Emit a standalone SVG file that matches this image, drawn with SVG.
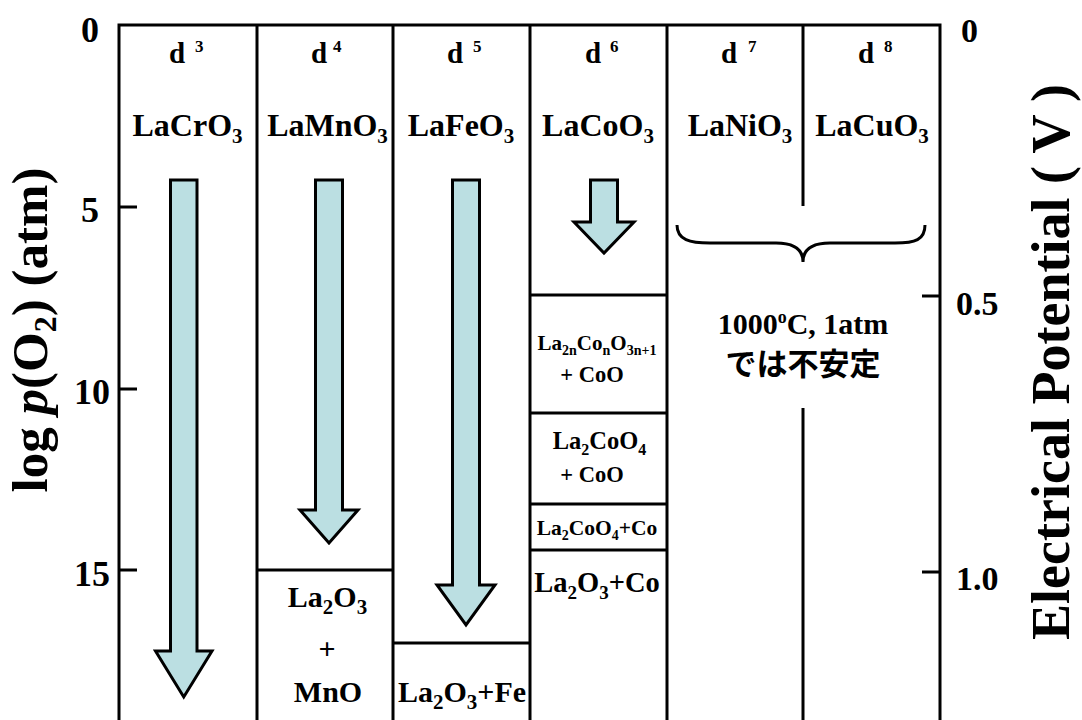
<svg xmlns="http://www.w3.org/2000/svg" width="1082" height="720" viewBox="0 0 1082 720">
<style>
text{font-family:"Liberation Serif","Times New Roman",serif;font-weight:bold;fill:#000}
.ln{stroke:#000;stroke-width:3;fill:none}
.arr{fill:#bbdfe2;stroke:#000;stroke-width:3;stroke-linejoin:miter}
.hd{font-size:32px;text-anchor:middle}
.sub{font-size:21px}
.d{font-size:29px}
.sup{font-size:17px}
.c{font-size:30px;text-anchor:middle}
.ax{font-size:36px;text-anchor:middle}
.ax2{font-size:34px}
.jp{font-family:"Noto Sans CJK JP",sans-serif;font-size:31px;text-anchor:middle}
</style>
<rect width="1082" height="720" fill="#fff"/>
<g id="frame" class="ln">
<path d="M119,720V25H940V720"/>
<path d="M257,25V720M393,25V720M530,25V720M667,25V720M803,25V206M803,408V720"/>
<path d="M119,207H137M119,389H137M119,570H137M922,296H940M922,572H940"/>
<path d="M257,570H393M393,643H530M530,295H667M530,413H667M530,504H667M530,550H667"/>
</g>
<g id="axis-left">
<text class="ax" x="90" y="42">0</text>
<text class="ax" x="90" y="222">5</text>
<text class="ax" x="92" y="404">10</text>
<text class="ax" x="92" y="586">15</text>
<text transform="translate(47,330) rotate(-90)" text-anchor="middle" font-size="51">log <tspan font-style="italic">p</tspan>(O<tspan font-size="32" dy="9">2</tspan><tspan dy="-9">) (atm)</tspan></text>
</g>
<g id="axis-right">
<text class="ax2" x="961" y="42">0</text>
<text class="ax2" x="956" y="315">0.5</text>
<text class="ax2" x="956" y="590">1.0</text>
<text transform="translate(1069,362) rotate(-90)" text-anchor="middle" font-size="54">Electrical Potential ( V )</text>
</g>
<g id="col-cr">
<text class="d" y="63"><tspan x="169">d</tspan><tspan class="sup" x="195" y="52">3</tspan></text>
<text class="hd" x="187.5" y="136">LaCrO<tspan class="sub" dy="7">3</tspan></text>
</g>
<g id="col-mn">
<text class="d" y="63"><tspan x="311">d</tspan><tspan class="sup" x="333" y="52">4</tspan></text>
<text class="hd" x="327.5" y="136">LaMnO<tspan class="sub" dy="7">3</tspan></text>
<g id="mn-product">
<text class="c" x="327.5" y="607">La<tspan class="sub" dy="7">2</tspan><tspan dy="-7">O</tspan><tspan class="sub" dy="7">3</tspan></text>
<text class="c" x="327" y="659">+</text>
<text class="c" x="328" y="702">MnO</text>
</g>
</g>
<g id="col-fe">
<text class="d" y="63"><tspan x="447">d</tspan><tspan class="sup" x="473" y="52">5</tspan></text>
<text class="hd" x="461" y="136">LaFeO<tspan class="sub" dy="7">3</tspan></text>
<g id="fe-product">
<text class="c" x="462" y="702">La<tspan class="sub" dy="7">2</tspan><tspan dy="-7">O</tspan><tspan class="sub" dy="7">3</tspan><tspan dy="-7">+Fe</tspan></text>
</g>
</g>
<g id="col-co">
<text class="d" y="63"><tspan x="585">d</tspan><tspan class="sup" x="610" y="52">6</tspan></text>
<text class="hd" x="598" y="136">LaCoO<tspan class="sub" dy="7">3</tspan></text>
<g id="co-1">
<text x="597" y="350" font-size="21" text-anchor="middle">La<tspan font-size="14" dy="5">2n</tspan><tspan dy="-5">Co</tspan><tspan font-size="14" dy="5">n</tspan><tspan dy="-5">O</tspan><tspan font-size="14" dy="5">3n+1</tspan></text>
<text x="592" y="382" font-size="22.5" text-anchor="middle">+ CoO</text>
</g>
<g id="co-2">
<text x="599.5" y="449" font-size="24.5" text-anchor="middle">La<tspan font-size="16" dy="6">2</tspan><tspan dy="-6">CoO</tspan><tspan font-size="16" dy="6">4</tspan></text>
<text x="592" y="482" font-size="22.5" text-anchor="middle">+ CoO</text>
</g>
<g id="co-3">
<text x="597" y="535" font-size="21.5" text-anchor="middle">La<tspan font-size="14" dy="5">2</tspan><tspan dy="-5">CoO</tspan><tspan font-size="14" dy="5">4</tspan><tspan dy="-5">+Co</tspan></text>
</g>
<g id="co-4">
<text x="597" y="592" font-size="28.5" text-anchor="middle">La<tspan font-size="19" dy="7">2</tspan><tspan dy="-7">O</tspan><tspan font-size="19" dy="7">3</tspan><tspan dy="-7">+Co</tspan></text>
</g>
</g>
<g id="col-ni">
<text class="d" y="63"><tspan x="721">d</tspan><tspan class="sup" x="748" y="52">7</tspan></text>
<text class="hd" x="740" y="136">LaNiO<tspan class="sub" dy="7">3</tspan></text>
</g>
<g id="col-cu">
<text class="d" y="63"><tspan x="858">d</tspan><tspan class="sup" x="884" y="52">8</tspan></text>
<text class="hd" x="872" y="136">LaCuO<tspan class="sub" dy="7">3</tspan></text>
</g>
<g id="unstable">
<path class="ln" d="M677,225C677,240 690,243 710,243L776,243C795,243 803,250 803,262C803,250 811,243 830,243L895,243C915,243 925,240 925,225"/>
<text class="c" x="803" y="334" font-size="31.5">1000<tspan font-size="18" dy="-11">o</tspan><tspan dy="11">C, 1atm</tspan></text>
<text class="jp" x="803" y="375">では不安定</text>
</g>
<g id="arrows">
<path class="arr" d="M170.5,180H197V651H212L183.75,697L155.5,651H170.5Z"/>
<path class="arr" d="M315.5,180H342.5V510H358L329,543L300,510H315.5Z"/>
<path class="arr" d="M452.5,180H479.5V585H495L466,625L437,585H452.5Z"/>
<path class="arr" d="M590.5,180H617.5V222H634L604,253L574,222H590.5Z"/>
</g>
</svg>
